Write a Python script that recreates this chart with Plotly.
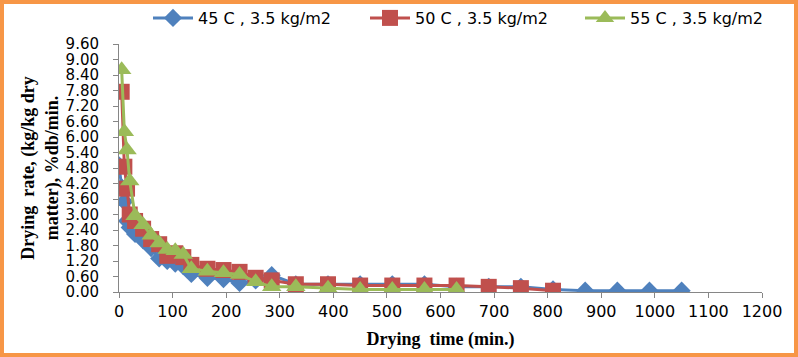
import plotly.graph_objects as go

t45 = [0, 5, 10, 15, 20, 30, 45, 60, 75, 90, 105, 120, 135, 165, 195, 225, 255, 285,
       330, 390, 450, 510, 570, 630, 690, 750, 810, 870, 930, 990, 1050]
r45 = [4.9, 4.05, 3.5, 2.75, 2.5, 2.25, 2.0, 1.7, 1.3, 1.2, 1.1, 1.0, 0.7, 0.55, 0.5, 0.35, 0.45, 0.65,
       0.3, 0.3, 0.3, 0.3, 0.3, 0.2, 0.2, 0.2, 0.1, 0.05, 0.05, 0.05, 0.05]

t50 = [5, 10, 15, 20, 30, 45, 60, 75, 90, 105, 120, 135, 165, 195, 225, 255, 285,
       330, 390, 450, 510, 570, 630, 690, 750, 810]
r50 = [7.75, 4.85, 4.0, 3.0, 2.75, 2.45, 2.05, 1.85, 1.4, 1.5, 1.35, 1.05, 0.9, 0.85, 0.78, 0.55, 0.45,
       0.3, 0.3, 0.25, 0.25, 0.25, 0.25, 0.2, 0.15, 0.05]

t55 = [5, 10, 15, 20, 30, 45, 60, 75, 90, 105, 120, 135, 165, 195, 225, 255, 285,
       330, 390, 450, 510, 570, 630]
r55 = [8.6, 6.2, 5.5, 4.3, 2.95, 2.6, 2.2, 1.9, 1.65, 1.6, 1.45, 0.9, 0.8, 0.75, 0.68, 0.4, 0.2,
       0.2, 0.15, 0.1, 0.1, 0.1, 0.1]

names = ["45 C , 3.5 kg/m2", "50 C , 3.5 kg/m2", "55 C , 3.5 kg/m2"]
colors = ["#4F81BD", "#C0504D", "#9BBB59"]
symbols = ["diamond", "square", "triangle-up"]
sizes = [14, 16, 17]
legend_ids = ["legend", "legend2", "legend3"]
legend_left = [148, 365, 580]

fig = go.Figure()
for t, r, n, c, s, sz, lg in zip([t45, t50, t55], [r45, r50, r55], names, colors, symbols,
                                 sizes, legend_ids):
    fig.add_trace(go.Scatter(x=t, y=r, name=n, mode="lines+markers", legend=lg,
                             line=dict(color=c, width=3),
                             marker=dict(symbol=s, size=sz, color=c)))

L, R, T, B = 119, 36, 44, 65
W, H = 798, 357
pw, ph = W - L - R, H - T - B

legend_style = {}
for lg, xl in zip(legend_ids, legend_left):
    legend_style[lg] = dict(orientation="h", xref="container", yref="container",
                            x=xl / W, xanchor="left", y=1 - 18 / H, yanchor="middle",
                            font=dict(family="DejaVu Sans", size=16), itemwidth=40,
                            bgcolor="rgba(0,0,0,0)")

fig.update_layout(
    width=W, height=H,
    margin=dict(l=L, r=R, t=T, b=B, autoexpand=False),
    paper_bgcolor="white", plot_bgcolor="white",
    font=dict(family="DejaVu Sans", size=16, color="black"),
    showlegend=True,
    **legend_style,
    xaxis=dict(range=[0, 1200], dtick=100, tick0=0, showgrid=False, zeroline=False,
               showline=True, linecolor="#868686", linewidth=1,
               ticks="outside", ticklen=5, tickcolor="#868686",
               tickfont=dict(family="DejaVu Sans", size=16),
               title=dict(text="Drying  time (min.)",
                          font=dict(family="Liberation Serif", size=18, weight="bold"),
                          standoff=12)),
    yaxis=dict(range=[0, 9.6], dtick=0.6, tick0=0, tickformat=".2f", showgrid=False,
               zeroline=False, showline=True, linecolor="#868686", linewidth=1,
               ticks="outside", ticklen=5, tickcolor="#868686", ticklabelstandoff=11,
               tickfont=dict(family="DejaVu Sans", size=15),
               title=dict(text="Drying  rate, (kg/kg dry<br>matter), %db/min.",
                          font=dict(family="Liberation Serif", size=18, weight="bold"),
                          standoff=2)),
    shapes=[dict(type="rect", xref="paper", yref="paper",
                 x0=(2 - L) / pw, x1=(W - 2 - L) / pw,
                 y0=-(H - 2 - T - ph) / ph, y1=1 + (T - 2) / ph,
                 line=dict(color="#F79646", width=4), fillcolor="rgba(0,0,0,0)", layer="above")],
)

fig.write_html("out.html", config={"displayModeBar": False},
               post_script="document.body.style.margin='0';document.body.style.overflow='hidden';")
